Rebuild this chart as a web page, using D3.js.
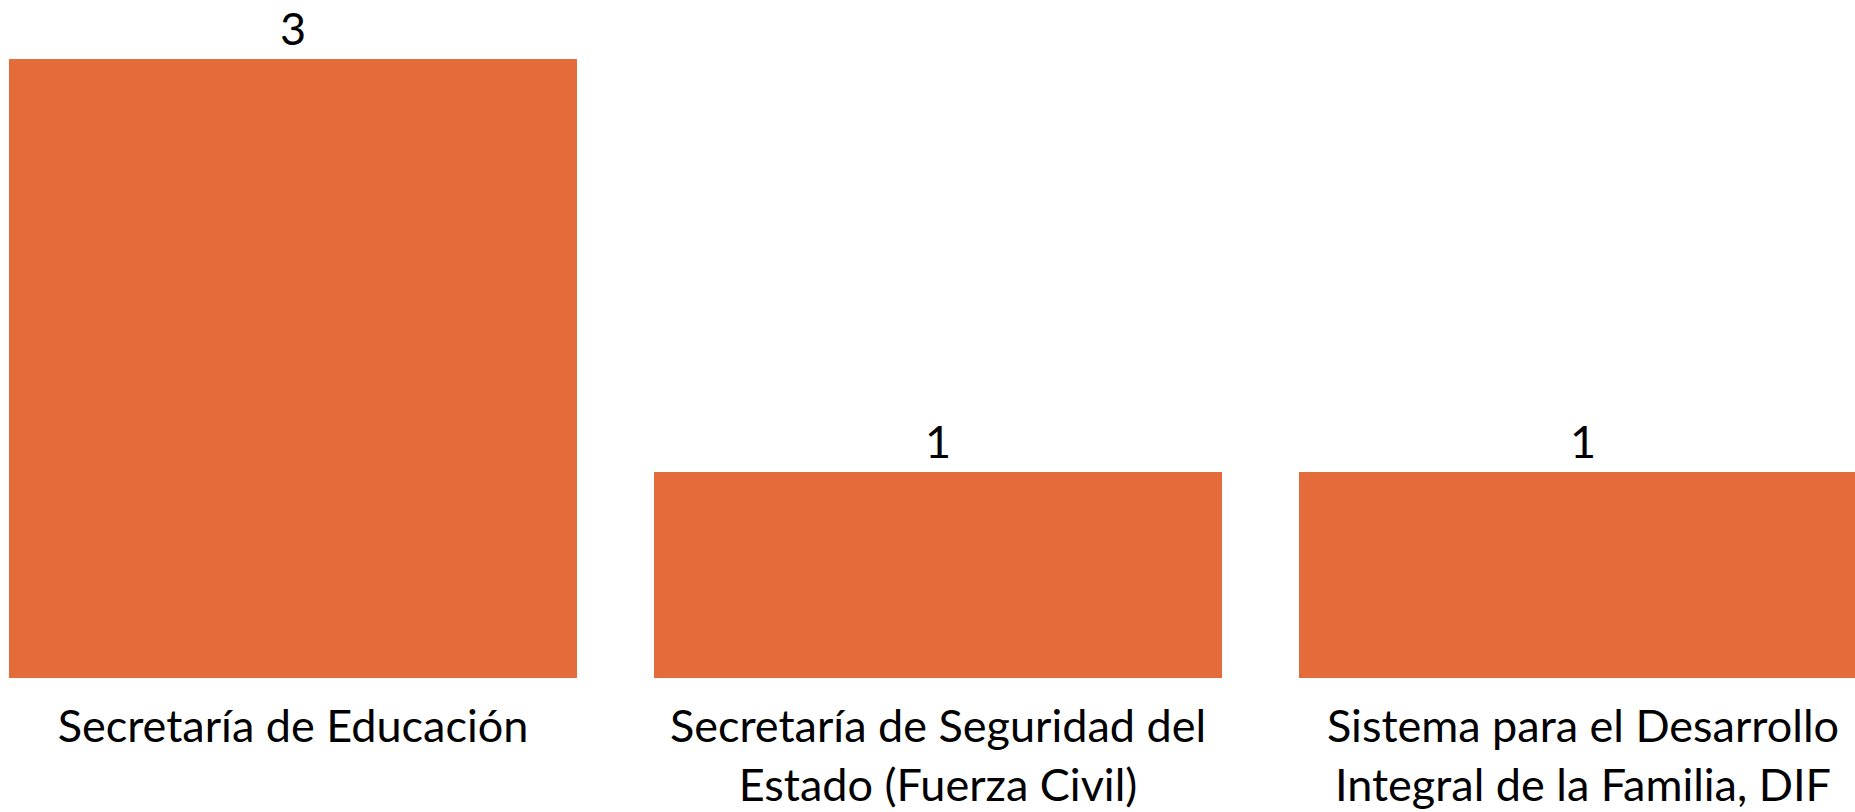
<!DOCTYPE html>
<html>
<head>
<meta charset="utf-8">
<script src="https://cdn.jsdelivr.net/npm/d3@7"></script>
<style>
  html, body { margin: 0; padding: 0; background: #fff; overflow: hidden; }
  svg { display: block; }
</style>
</head>
<body>
<div id="chart"></div>
<script>

// data
const categories = [
    "Secretaría de Educación",
    "Secretaría de Seguridad del Estado (Fuerza Civil)",
    "Sistema para el Desarrollo Integral de la Familia, DIF"
];
const values = [3, 1, 1];

const width = 1855;
const height = 812;
const baseY = 678;
const topY = 59;
const barColor = "#E46C3A";
const fontFamily = "Lato, 'Open Sans', sans-serif";

let svg = d3.select("#chart")
    .append("svg")
    .attr("width", width)
    .attr("height", height);

// the plot runs past the right edge of the picture, so the range does too
let x = d3.scaleBand()
    .domain(categories)
    .range([-29.5, 1905.5])
    .paddingInner(0.12)
    .paddingOuter(0.06);

let y = d3.scaleLinear()
    .domain([0, d3.max(values)])
    .range([baseY, topY]);

svg.selectAll("rect.bar")
    .data(categories)
    .enter()
    .append("rect")
    .attr("class", "bar")
    .attr("x", d => x(d))
    .attr("y", (d, i) => y(values[i]))
    .attr("width", x.bandwidth())
    .attr("height", (d, i) => y(0) - y(values[i]))
    .attr("fill", barColor)
    .attr("shape-rendering", "crispEdges");

svg.selectAll("text.value")
    .data(categories)
    .enter()
    .append("text")
    .attr("class", "value")
    .attr("x", d => x(d) + x.bandwidth() / 2)
    .attr("y", (d, i) => y(values[i]) - 14)
    .attr("text-anchor", "middle")
    .attr("font-family", fontFamily)
    .attr("font-size", 45)
    .attr("fill", "#000")
    .text((d, i) => values[i]);

function wrap(text, maxWidth) {
    text.each(function () {
        let t = d3.select(this);
        let words = t.text().split(/\s+/);
        let cx = t.attr("x");
        let lineHeight = 59;
        t.text(null);
        let line = [];
        let tspan = t.append("tspan").attr("x", cx).attr("dy", 0);
        for (let w of words) {
            line.push(w);
            tspan.text(line.join(" "));
            if (tspan.node().getComputedTextLength() > maxWidth && line.length > 1) {
                line.pop();
                tspan.text(line.join(" "));
                line = [w];
                tspan = t.append("tspan").attr("x", cx).attr("dy", lineHeight).text(w);
            }
        }
    });
}

svg.selectAll("text.cat")
    .data(categories)
    .enter()
    .append("text")
    .attr("class", "cat")
    .attr("x", d => x(d) + x.bandwidth() / 2)
    .attr("y", 742)
    .attr("text-anchor", "middle")
    .attr("font-family", fontFamily)
    .attr("font-size", 45)
    .attr("fill", "#000")
    .text(d => d)
    .call(wrap, x.bandwidth());

</script>
</body>
</html>
